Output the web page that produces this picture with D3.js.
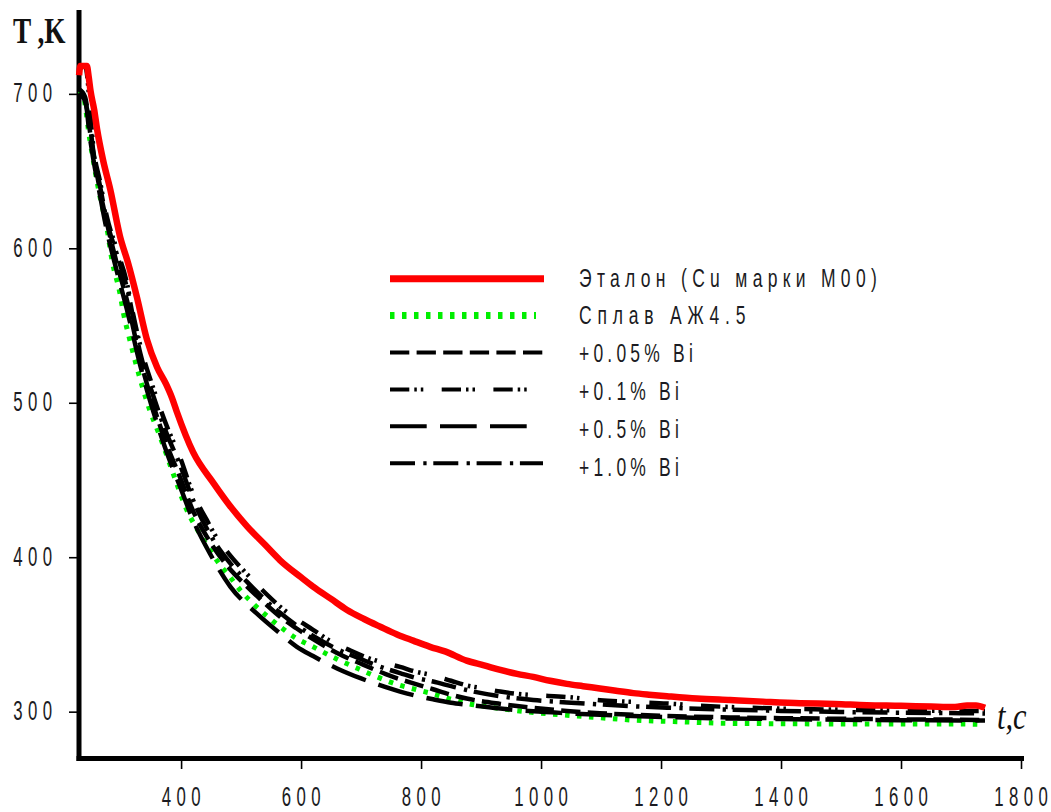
<!DOCTYPE html>
<html>
<head>
<meta charset="utf-8">
<script src="https://cdn.jsdelivr.net/npm/d3@7"></script>
<style>
  html, body { margin: 0; padding: 0; background: #fff; }
  svg { display: block; }
</style>
</head>
<body>
<svg id="chart" width="1051" height="812"></svg>
<script>
// Cooling curves T(t) for the reference copper and the alloy with bismuth additions
const xTicks = [400, 600, 800, 1000, 1200, 1400, 1600, 1800];
const yTicks = [300, 400, 500, 600, 700];

const seriesNames = [
  "Эталон (Cu марки М00)",
  "Сплав АЖ4.5",
  "+0.05% Bi",
  "+0.1% Bi",
  "+0.5% Bi",
  "+1.0% Bi"
];

// [t, T] pairs
const etalon = [[230,712],[232,718],[243,718],[246,711],[249,702],[255,690],[260,677],[270,657],[282,638],[298,608],[312,590],[326,569],[343,541],[360,523],[375,512],[385,503],[393,494],[420,468],[454,448],[480,434],[510,420],[540,408],[565,398],[600,387],[620,381],[650,373],[676,366],[705,360],[732,355],[760,350],[787,346],[815,342],[840,339],[876,333],[905,330],[932,327],[960,324.5],[987,322.5],[1015,320],[1043,318],[1070,316.5],[1098,315],[1125,313.5],[1154,312],[1180,311],[1210,310],[1260,308.5],[1315,307.5],[1370,306.5],[1432,305.5],[1490,305],[1543,304.2],[1600,303.8],[1650,303.3],[1690,303],[1710,304],[1725,304],[1740,302.5]];

const alloy = [[230,702],[236,700],[248,670],[265,633],[276,614],[285,592],[298,571],[304,558],[315,540],[332,515],[348,495],[365,478],[387,454],[409,431],[430,416],[448,404.5],[465,395],[482,387],[500,378],[520,370],[540,363],[565,355],[590,348],[620,342],[660,334],[700,327],[730,322],[765,317],[790,314.5],[820,311.5],[850,308],[876,305.3],[905,303.5],[932,302],[987,299.5],[1043,297.7],[1100,296],[1154,294.5],[1230,293.5],[1315,292.4],[1400,292.2],[1500,292],[1600,292],[1700,292],[1737,291.8]];

const bi005 = [[230,703],[240,698],[248,676],[265,637],[276,617],[293,590],[310,566],[332,528],[354,498],[376,473],[398,452],[420,430],[448,410],[480,393],[510,381],[540,370],[565,361.5],[592,354],[620,347],[660,338],[700,331],[740,324.5],[765,321],[790,318],[820,314.5],[850,311],[876,308.5],[932,305],[987,302.5],[1043,300.5],[1098,299],[1153,298],[1210,297.2],[1315,296.3],[1400,295.8],[1500,295.4],[1600,295],[1700,294.8],[1740,294.6]];

const bi01 = [[230,716],[240,718],[244,710],[248,690],[254,665],[265,643],[276,621],[293,599],[310,577],[315,567],[332,537],[354,509],[376,485],[398,465],[420,441],[443,424],[454,416],[480,402],[510,389],[540,377],[565,368],[592,360],[620,353],[648,346],[680,340],[710,335],[740,331.5],[765,329],[790,326],[820,323.5],[850,320],[876,317],[905,315],[932,313],[960,311.5],[987,310.7],[1043,309.5],[1098,307.4],[1153,306.3],[1210,305.3],[1260,304],[1315,303],[1400,302],[1500,301.3],[1600,300.8],[1700,300.5],[1740,300.5]];

const bi05 = [[230,700],[240,696],[248,672],[265,634],[276,612],[293,585],[310,560],[332,524],[354,494],[376,468],[398,446],[420,424],[448,402.4],[482,381],[526,363.6],[565,350.6],[593,342],[620,336],[660,328],[700,321.5],[740,316],[765,313],[790,310.5],[820,308],[850,305.8],[876,304.5],[932,302],[987,300.2],[1043,299],[1098,298],[1153,297.2],[1210,296.5],[1315,295.6],[1400,295.2],[1500,294.8],[1600,294.5],[1700,294.3],[1740,294.2]];

const bi10 = [[230,700],[238,697],[248,680],[254,662],[265,640],[276,618],[293,596],[310,574],[332,532],[354,504],[376,480],[398,460],[420,437],[454,411],[480,397],[510,384],[540,372.5],[565,364],[592,356],[620,349],[660,340.5],[700,334],[740,328],[765,325],[790,322],[820,319.5],[850,316.5],[876,314],[932,310],[987,307.5],[1043,306],[1098,304.7],[1153,303.5],[1210,302.6],[1315,301.3],[1400,300.5],[1500,299.8],[1600,299.3],[1700,299],[1740,298.8]];

const svg = d3.select("#chart");

const x = d3.scaleLinear().domain([229, 1800]).range([78.5, 1021]);
const y = d3.scaleLinear().domain([270, 753]).range([758, 12]);

const textColor = "#1b1b22";

// Axes
const yAxis = svg.append("g")
  .attr("transform", `translate(${x.range()[0]},0)`)
  .call(d3.axisLeft(y).tickValues(yTicks).tickSize(9.5).tickSizeOuter(0).tickFormat(""));
const xAxis = svg.append("g")
  .attr("transform", `translate(0,${y.range()[0]})`)
  .call(d3.axisBottom(x).tickValues(xTicks).tickSize(11).tickSizeOuter(0).tickFormat(""));

[yAxis, xAxis].forEach(g => {
  g.select(".domain").attr("stroke", "#000").attr("stroke-width", 5).attr("stroke-linecap", "square");
  g.selectAll(".tick line").attr("stroke", "#000").attr("stroke-width", 1.6);
});

// Condensed label text: horizontally squeezed glyphs, extra gap spread between glyphs only
function narrowText(parent, px, py, str, o) {
  const g = parent.append("g").attr("transform", `translate(${px},${py}) scale(${o.sx},1)`);
  const t = g.append("text")
    .attr("x", 0)
    .attr("y", 0)
    .attr("text-anchor", o.anchor || "start")
    .attr("font-family", o.family || "'Liberation Sans', Arial, sans-serif")
    .attr("font-size", o.size)
    .attr("font-weight", o.weight || "normal")
    .attr("font-style", o.style || "normal")
    .attr("fill", o.fill || textColor)
    .text(str);
  if (o.ls) {
    const natural = t.node().getComputedTextLength();
    t.attr("textLength", natural + (str.length - 1) * o.ls)
     .attr("lengthAdjust", "spacing");
  }
  return t;
}

const tickLabelOpts = { sx: 0.6, ls: 9, size: 28 };
yTicks.forEach(v => {
  narrowText(svg, 52, y(v) + 8.5, String(v), { ...tickLabelOpts, anchor: "end" });
});
xTicks.forEach(v => {
  narrowText(svg, x(v), 806, String(v), { ...tickLabelOpts, anchor: "middle" });
});

// Axis titles
narrowText(svg, 13, 43, "T ,K", { sx: 0.78, ls: 0, size: 35, weight: "bold",
  family: "'Liberation Serif', 'Times New Roman', serif", fill: "#111" });
narrowText(svg, 997, 729, "t,c", { sx: 0.8, ls: 0, size: 38, style: "italic",
  family: "'Liberation Serif', 'Times New Roman', serif", fill: "#111" });

// Line styles
const styles = [
  { data: etalon, color: "#ff0000", width: 6.5, dash: null },
  { data: alloy,  color: "#00ee00", width: 5,   dash: "4.5,7.5" },
  { data: bi005,  color: "#000",    width: 4.5, dash: "19.3,7.3" },
  { data: bi01,   color: "#000",    width: 4.5, dash: "19.3,5,2.5,4,2.5,18.4" },
  { data: bi05,   color: "#000",    width: 4.5, dash: "36.7,13.3" },
  { data: bi10,   color: "#000",    width: 4.5, dash: "25,8.3,3.3,6.7" }
];

const line = d3.line()
  .x(d => x(d[0]))
  .y(d => y(d[1]))
  .curve(d3.curveMonotoneX);

const drawOrder = [1, 4, 2, 5, 3, 0];
const plot = svg.append("g");
drawOrder.forEach(i => {
  const s = styles[i];
  plot.append("path")
    .datum(s.data)
    .attr("fill", "none")
    .attr("stroke", s.color)
    .attr("stroke-width", s.width)
    .attr("stroke-linejoin", "round")
    .attr("stroke-dasharray", s.dash)
    .attr("d", line);
});

// Legend
const legend = svg.append("g");
const legendLineX0 = 390;
const legendLineEnds = [544, 536, 543, 543, 527, 543];
const legendWidths = [7, 7, 4, 4, 4, 4];
const legendSpacing = [7.6, 8.3, 6, 6, 6, 6];
seriesNames.forEach((name, i) => {
  const s = styles[i];
  const ly = 278.7 + i * 36.9;
  legend.append("line")
    .attr("x1", legendLineX0).attr("x2", legendLineEnds[i])
    .attr("y1", ly).attr("y2", ly)
    .attr("stroke", s.color)
    .attr("stroke-width", legendWidths[i])
    .attr("stroke-dasharray", s.dash);
  narrowText(legend, 579, 286.5 + i * 37.9, name, { sx: 0.7, ls: legendSpacing[i], size: 25, anchor: "start" });
});
</script>
</body>
</html>
